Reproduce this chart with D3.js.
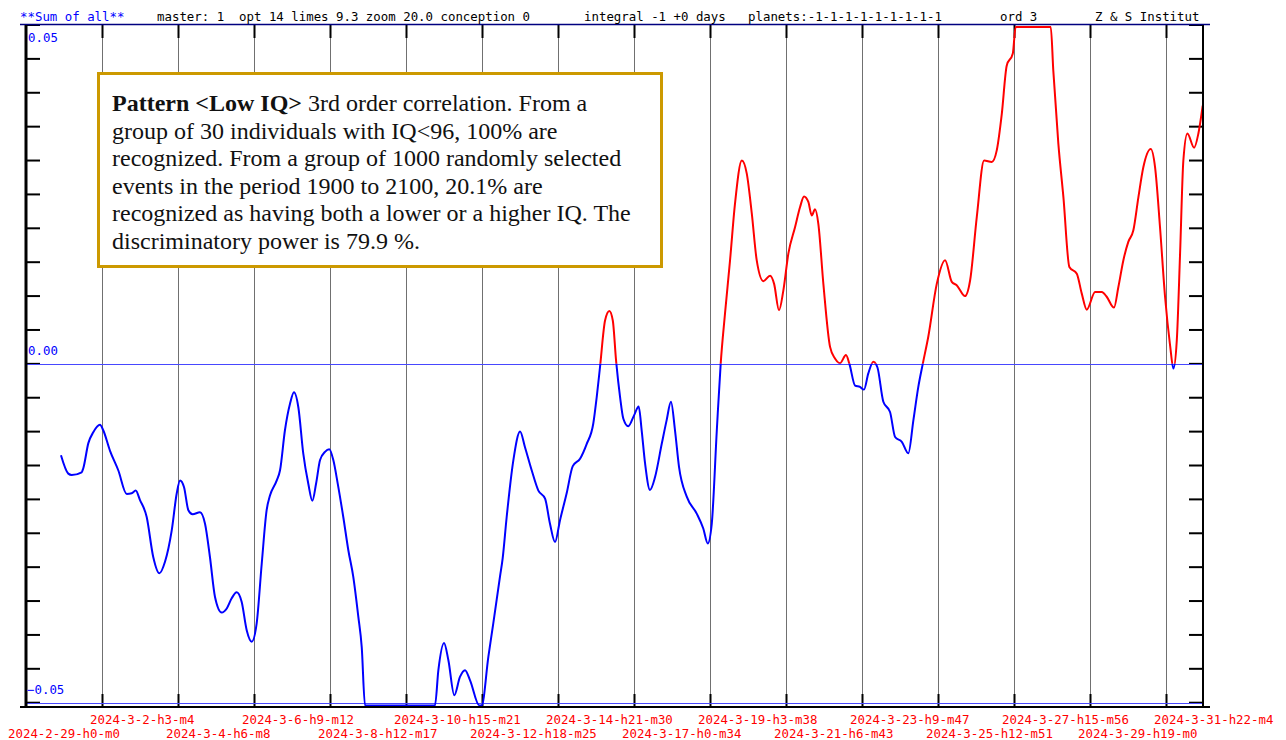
<!DOCTYPE html>
<meta charset="utf-8">
<head>
    <script src="https://d3js.org/d3.v7.min.js"></script>
    <style>
        body { margin: 0; background: white; }
        svg text { font-family: "DejaVu Sans Mono", "Liberation Mono", monospace; font-size: 12.4px; }
        .box text { font-family: "Liberation Serif", "Times New Roman", serif; font-size: 24px; }
    </style>
</head>
<body>
<div id="chart"></div>
<script>
    // hours since 2024-02-29 00:00
    var hours = [23.5, 28.4, 30.7, 37.4, 38.5, 41.9, 45.2, 49.7, 51.9, 56.4, 62.0, 67.7, 71.0, 73.7, 76.6, 81.1, 85.5, 89.6, 93.4, 97.9,
        101.3, 103.5, 106.2, 109.1, 112.0, 116.9, 120.3, 123.6, 127.0, 131.5, 134.9, 138.2, 141.6, 144.9, 148.3, 151.7, 155.0, 158.4, 161.7, 164.0,
        168.5, 170.7, 174.0, 177.4, 180.1, 183.0, 186.3, 189.7, 192.4, 194.9, 197.6, 200.9, 203.8, 206.5, 209.5, 213.2, 216.6, 219.9, 223.3, 225.6,
        227.8, 274.8, 277.1, 280.9, 283.8, 287.8, 291.6, 295.0, 298.4, 304.6, 306.2, 310.7, 314.0, 318.5, 320.3, 323.0, 327.5, 332.0, 335.3, 339.8,
        344.3, 348.8, 352.1, 355.5, 358.8, 363.3, 367.4, 372.3, 376.8, 381.2, 383.5, 385.7, 389.1, 392.0, 394.3, 396.5, 399.2, 401.4, 404.7, 408.6,
        411.7, 413.7, 416.0, 419.3, 422.7, 427.2, 430.5, 433.4, 436.1, 438.8, 444.0, 450.7, 455.1, 458.1, 460.8, 464.2, 466.8, 469.7, 473.1, 476.4,
        481.0, 484.3, 487.7, 491.0, 495.5, 500.0, 502.7, 506.0, 508.9, 512.3, 516.8, 520.1, 522.8, 525.7, 528.0, 530.2, 532.4, 535.8, 540.3, 543.6,
        547.0, 551.0, 553.3, 557.1, 560.4, 563.1, 566.0, 569.4, 572.1, 576.1, 580.6, 584.0, 588.5, 592.9, 596.3, 599.6, 602.6, 606.3, 612.0, 617.6,
        622.1, 625.4, 631.0, 634.4, 638.9, 643.8, 649.0, 652.3, 655.7, 659.0, 663.1, 665.0, 688.6, 690.3, 693.7, 697.1, 701.1, 706.1, 709.4, 712.8,
        718.4, 722.9, 726.2, 731.1, 734.0, 737.4, 740.7, 744.1, 747.5, 750.8, 755.8, 758.7, 762.0, 765.4, 768.8, 771.0, 773.3, 775.5, 777.7, 780.4,
        784.9, 787.8, 790.7];
    var values = [-0.0135, -0.0162, -0.0164, -0.0160, -0.0154, -0.0117, -0.0101, -0.0090, -0.0098, -0.0128, -0.0157, -0.0192, -0.0191, -0.0187, -0.0201, -0.0226, -0.0285, -0.0309, -0.0292, -0.0246,
        -0.0191, -0.0172, -0.0182, -0.0216, -0.0222, -0.0219, -0.0236, -0.0285, -0.0344, -0.0367, -0.0361, -0.0346, -0.0337, -0.0351, -0.0393, -0.0410, -0.0383, -0.0295, -0.0216, -0.0194,
        -0.0172, -0.0157, -0.0098, -0.0059, -0.0042, -0.0064, -0.0132, -0.0177, -0.0202, -0.0177, -0.0142, -0.0130, -0.0126, -0.0142, -0.0177, -0.0226, -0.0275, -0.0314, -0.0373, -0.0418,
        -0.0504, -0.0504, -0.0452, -0.0412, -0.0437, -0.0489, -0.0462, -0.0452, -0.0467, -0.0504, -0.0504, -0.0432, -0.0383, -0.0314, -0.0287, -0.0226, -0.0142, -0.0100, -0.0123, -0.0157,
        -0.0187, -0.0199, -0.0236, -0.0263, -0.0231, -0.0191, -0.0151, -0.0140, -0.0118, -0.0088, -0.0049, -0.0005, 0.0064, 0.0078, 0.0064, 0.0005, -0.0049, -0.0081, -0.0092, -0.0076,
        -0.0063, -0.0098, -0.0147, -0.0186, -0.0167, -0.0118, -0.0083, -0.0056, -0.0098, -0.0152, -0.0196, -0.0221, -0.0243, -0.0265, -0.0236, -0.0098, 0.0000, 0.0074, 0.0153, 0.0236,
        0.0300, 0.0281, 0.0222, 0.0153, 0.0122, 0.0130, 0.0118, 0.0079, 0.0108, 0.0163, 0.0202, 0.0231, 0.0247, 0.0239, 0.0219, 0.0228, 0.0207, 0.0118, 0.0025, 0.0008,
        0.0001, 0.0013, 0.0000, -0.0032, -0.0034, -0.0038, -0.0014, 0.0003, -0.0005, -0.0056, -0.0071, -0.0108, -0.0115, -0.0132, -0.0083, -0.0034, 0.0000, 0.0040, 0.0118, 0.0153,
        0.0121, 0.0116, 0.0100, 0.0123, 0.0217, 0.0300, 0.0298, 0.0315, 0.0369, 0.0440, 0.0458, 0.0497, 0.0497, 0.0433, 0.0325, 0.0246, 0.0143, 0.0133, 0.0104, 0.0080,
        0.0106, 0.0106, 0.0099, 0.0083, 0.0113, 0.0153, 0.0180, 0.0197, 0.0246, 0.0290, 0.0317, 0.0290, 0.0202, 0.0099, 0.0027, -0.0007, 0.0035, 0.0163, 0.0300, 0.0340,
        0.0319, 0.0340, 0.0381];

    var tickLabels = ["2024-2-29-h0-m0", "2024-3-2-h3-m4", "2024-3-4-h6-m8", "2024-3-6-h9-m12", "2024-3-8-h12-m17",
        "2024-3-10-h15-m21", "2024-3-12-h18-m25", "2024-3-14-h21-m30", "2024-3-17-h0-m34", "2024-3-19-h3-m38",
        "2024-3-21-h6-m43", "2024-3-23-h9-m47", "2024-3-25-h12-m51", "2024-3-27-h15-m56", "2024-3-29-h19-m0",
        "2024-3-31-h22-m4"];
    var yLabels = [0.05, 0.00, -0.05];
    var stepHours = 51.071;   // spacing of the date ticks
    var endHours = 790.9;

    var headerTexts = [
        {t: "**Sum of all**", x: 20, c: "#0000ff"},
        {t: "master: 1  opt 14 limes 9.3 zoom 20.0 conception 0", x: 157, c: "#000"},
        {t: "integral -1 +0 days", x: 584, c: "#000"},
        {t: "planets:-1-1-1-1-1-1-1-1-1", x: 748, c: "#000"},
        {t: "ord 3", x: 1000, c: "#000"},
        {t: "Z & S Institut", x: 1095, c: "#000"}
    ];
    var boxLines = [
        ["Pattern <Low IQ>", " 3rd order correlation. From a"],
        ["", "group of 30 individuals with IQ<96, 100% are"],
        ["", "recognized. From a group of 1000 randomly selected"],
        ["", "events in the period 1900 to 2100, 20.1% are"],
        ["", "recognized as having both a lower or a higher IQ. The"],
        ["", "discriminatory power is 79.9 %."]
    ];

    var width = 1286, height = 740;
    var pLeft = 26, pRight = 1203, pTop = 25, pBottom = 707;

    var svg = d3.select("#chart").append("svg")
        .attr("width", width)
        .attr("height", height);

    var x = d3.scaleLinear().domain([0, endHours]).range([pLeft, pRight]);
    var y = d3.scaleLinear().domain([-0.05, 0.05]).range([702.7, pTop]);

    // gridlines on date ticks
    var ticks = d3.range(tickLabels.length).map(function(i) { return i * stepHours; });
    svg.append("g").selectAll("line")
        .data(ticks.slice(1))
        .enter().append("line")
        .attr("x1", function(d) { return Math.round(x(d)) + 0.5; })
        .attr("x2", function(d) { return Math.round(x(d)) + 0.5; })
        .attr("y1", pTop).attr("y2", pBottom)
        .attr("stroke", "#707070").attr("stroke-width", 1);
    // short thick ticks top and bottom
    [[pTop, pTop + 13], [pBottom - 13, pBottom]].forEach(function(seg) {
        svg.append("g").selectAll("line")
            .data(ticks.slice(1))
            .enter().append("line")
            .attr("x1", function(d) { return Math.round(x(d)) + 0.5; })
            .attr("x2", function(d) { return Math.round(x(d)) + 0.5; })
            .attr("y1", seg[0]).attr("y2", seg[1])
            .attr("stroke", "black").attr("stroke-width", 2);
    });

    // value ticks on left and right axis
    var yTicks = d3.range(-10, 11).map(function(i) { return i * 0.005; });
    svg.append("g").selectAll("line")
        .data(yTicks)
        .enter().append("line")
        .attr("x1", pLeft).attr("x2", pLeft + 14)
        .attr("y1", function(d) { return y(d); })
        .attr("y2", function(d) { return y(d); })
        .attr("stroke", "black").attr("stroke-width", 2);
    svg.append("g").selectAll("line")
        .data(yTicks)
        .enter().append("line")
        .attr("x1", pRight - 14).attr("x2", pRight)
        .attr("y1", function(d) { return y(d); })
        .attr("y2", function(d) { return y(d); })
        .attr("stroke", "black").attr("stroke-width", 2);

    // zero and lower limit lines
    [0, -0.05].forEach(function(v) {
        svg.append("line")
            .attr("x1", pLeft).attr("x2", pRight)
            .attr("y1", Math.round(y(v)) + 0.5).attr("y2", Math.round(y(v)) + 0.5)
            .attr("stroke", "#4848ff").attr("stroke-width", 1);
    });

    // curve, red above zero and blue below
    var pts = hours.map(function(h, i) { return [h, values[i]]; });
    var line = d3.line()
        .x(function(d) { return x(d[0]); })
        .y(function(d) { return y(d[1]); })
        .curve(d3.curveMonotoneX);
    var defs = svg.append("defs");
    defs.append("clipPath").attr("id", "above").append("rect")
        .attr("x", pLeft).attr("y", pTop).attr("width", pRight - pLeft).attr("height", y(0) - pTop);
    defs.append("clipPath").attr("id", "below").append("rect")
        .attr("x", pLeft).attr("y", y(0)).attr("width", pRight - pLeft).attr("height", pBottom - y(0));
    svg.append("path").datum(pts)
        .attr("d", line).attr("fill", "none")
        .attr("stroke", "#ff0000").attr("stroke-width", 2)
        .attr("clip-path", "url(#above)");
    svg.append("path").datum(pts)
        .attr("d", line).attr("fill", "none")
        .attr("stroke", "#0000ff").attr("stroke-width", 2)
        .attr("clip-path", "url(#below)");

    // frame
    svg.append("line").attr("x1", 20).attr("x2", 1210).attr("y1", pTop - 0.5).attr("y2", pTop - 0.5)
        .attr("stroke", "#000080").attr("stroke-width", 1.5);
    svg.append("line").attr("x1", pLeft).attr("x2", pLeft).attr("y1", pTop).attr("y2", pBottom)
        .attr("stroke", "black").attr("stroke-width", 3);
    svg.append("line").attr("x1", pRight).attr("x2", pRight).attr("y1", pTop).attr("y2", pBottom)
        .attr("stroke", "black").attr("stroke-width", 2);
    svg.append("line").attr("x1", 20).attr("x2", 1210).attr("y1", pBottom).attr("y2", pBottom)
        .attr("stroke", "black").attr("stroke-width", 2);

    // y labels
    svg.append("g").selectAll("text")
        .data(yLabels)
        .enter().append("text")
        .attr("x", function(d) { return d < 0 ? 27 : 28; })
        .attr("y", function(d) { return d > 0 ? y(d) + 17 : y(d) - 9; })
        .attr("fill", "#0000ff")
        .text(function(d) { return d3.format(".2f")(d); });

    // x labels, alternating rows
    svg.append("g").selectAll("text")
        .data(tickLabels)
        .enter().append("text")
        .attr("x", function(d, i) { return i === 0 ? 8 : x(ticks[i]) - 12; })
        .attr("y", function(d, i) { return i % 2 === 0 ? 738 : 724; })
        .attr("fill", "#ff0000")
        .text(function(d) { return d; });

    // header
    svg.append("g").selectAll("text")
        .data(headerTexts)
        .enter().append("text")
        .attr("x", function(d) { return d.x; })
        .attr("y", 21)
        .attr("fill", function(d) { return d.c; })
        .style("white-space", "pre")
        .text(function(d) { return d.t; });

    // annotation box
    var box = svg.append("g").attr("class", "box");
    box.append("rect")
        .attr("x", 98.5).attr("y", 73.5).attr("width", 563).attr("height", 193)
        .attr("fill", "white").attr("stroke", "#cc9900").attr("stroke-width", 3);
    boxLines.forEach(function(l, i) {
        var t = box.append("text").attr("x", 112).attr("y", 111 + i * 27.6).attr("fill", "#111");
        if (l[0]) t.append("tspan").attr("font-weight", "bold").text(l[0]);
        t.append("tspan").style("white-space", "pre").text(l[1]);
    });
</script>
</body>
</html>
